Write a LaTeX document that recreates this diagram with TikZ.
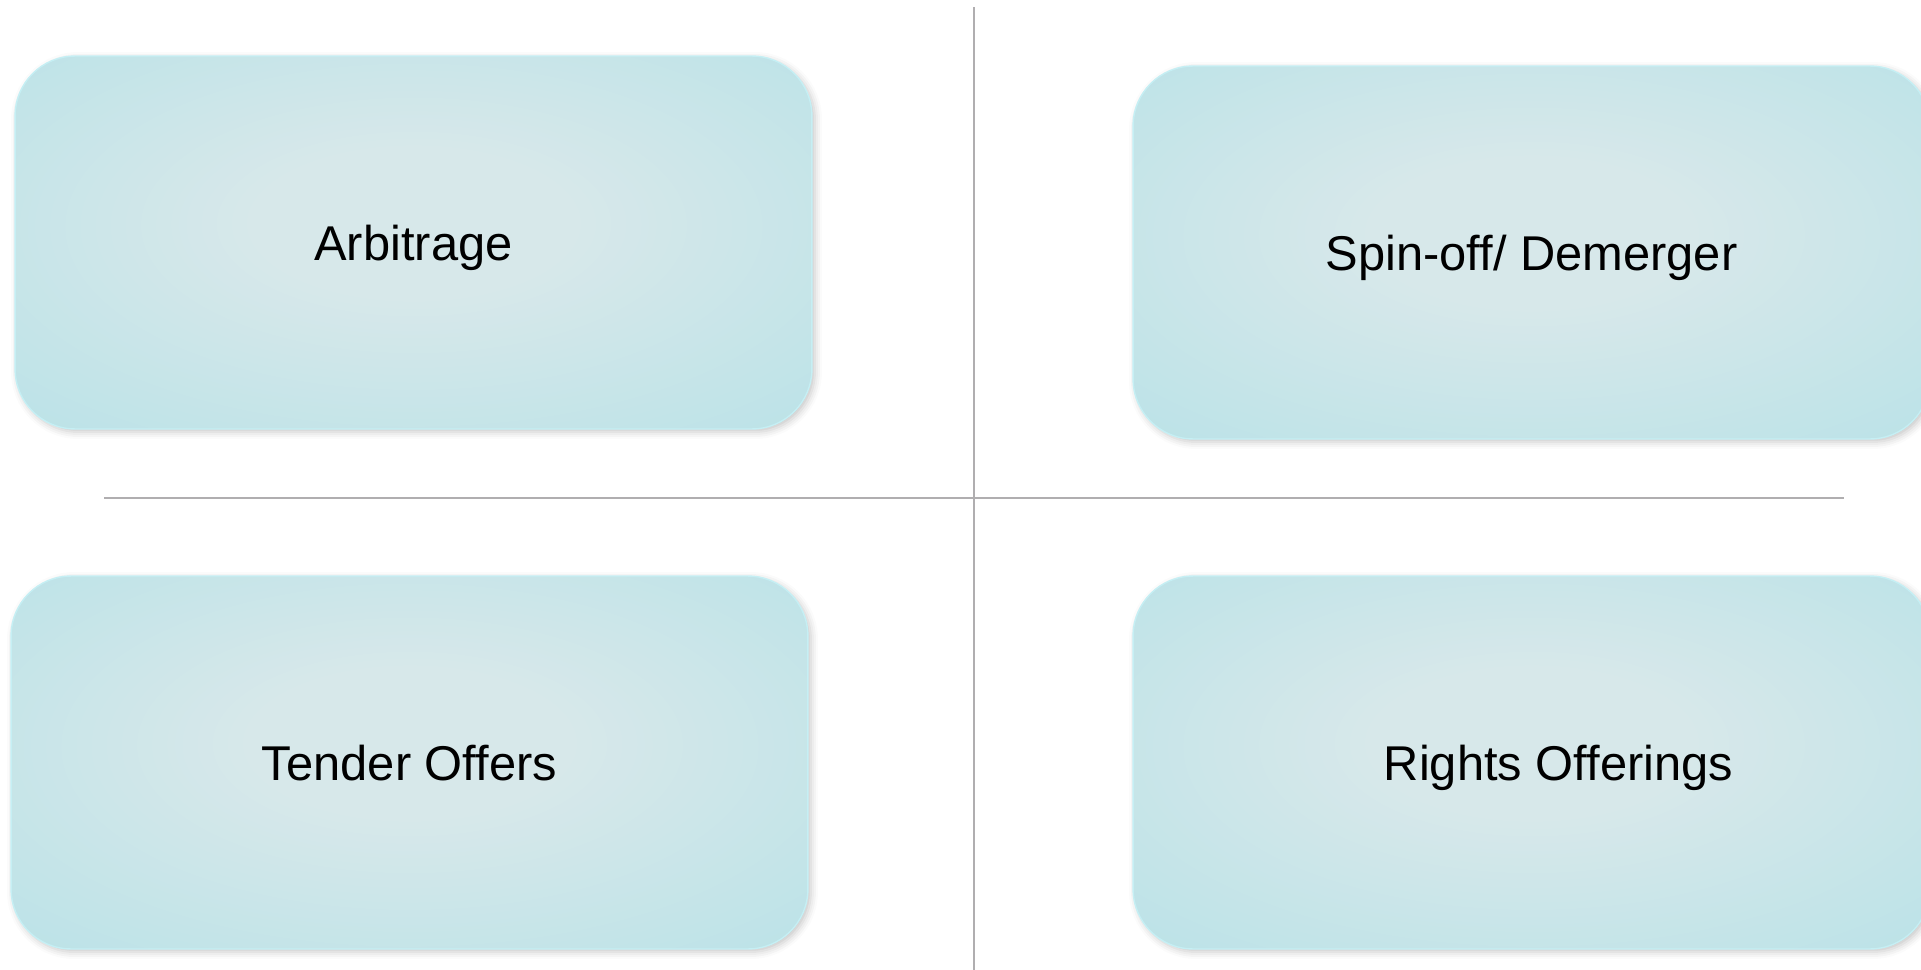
\documentclass[tikz,border=0pt]{standalone}
\usepackage{fontspec}
\setmainfont{Liberation Sans}
\usetikzlibrary{positioning,shadows.blur}

\definecolor{glowin}{RGB}{215,232,234}
\definecolor{glowout}{RGB}{175,224,230}
\definecolor{rimcol}{RGB}{197,239,244}
\definecolor{rulecol}{RGB}{176,174,176}
\pgfdeclareradialshading{boxglow}{\pgfpoint{0bp}{3bp}}{color(0bp)=(glowin); color(10bp)=(glowin); color(48bp)=(glowout); color(80bp)=(glowout)}

\tikzset{
  tile/.style={draw=rimcol, line width=0.8pt, rounded corners=1.2cm, shading=boxglow,
    minimum width=15.94cm, minimum height=7.46cm, inner sep=0pt, text depth=0pt, yshift=-0.06cm,
    blur shadow={shadow xshift=0.06cm, shadow yshift=-0.06cm, shadow blur radius=0.14cm, shadow opacity=22}},
  rule/.style={draw=rulecol, line width=1.5pt}
}

\begin{document}
\begin{tikzpicture}[x=0.02cm, y=-0.02cm, font=\fontsize{27.8}{33}\selectfont]
    \useasboundingbox (0,0) rectangle (1921,970);
    % quadrant separators
    \coordinate (vtop) at (974,7);
    \coordinate (vbot) at (974,970);
    \coordinate (hleft) at (104,498);
    \coordinate (hright) at (1844,498);
    \draw[rule] (vtop) -- (vbot);
    \draw[rule] (hleft) -- (hright);
    % the four tiles
    \node (arb) [tile] at (413.5,239.5) {Arbitrage};
    \node (spin) [tile] at (1531.5,249.5) {Spin-off/ Demerger};
    \node (tender) [tile] at (409.5,759.5) {Tender Offers};
    \node (rights) [tile] at (1531.5,759.5) {\hspace*{1.08cm}Rights Offerings};
\end{tikzpicture}
\end{document}
